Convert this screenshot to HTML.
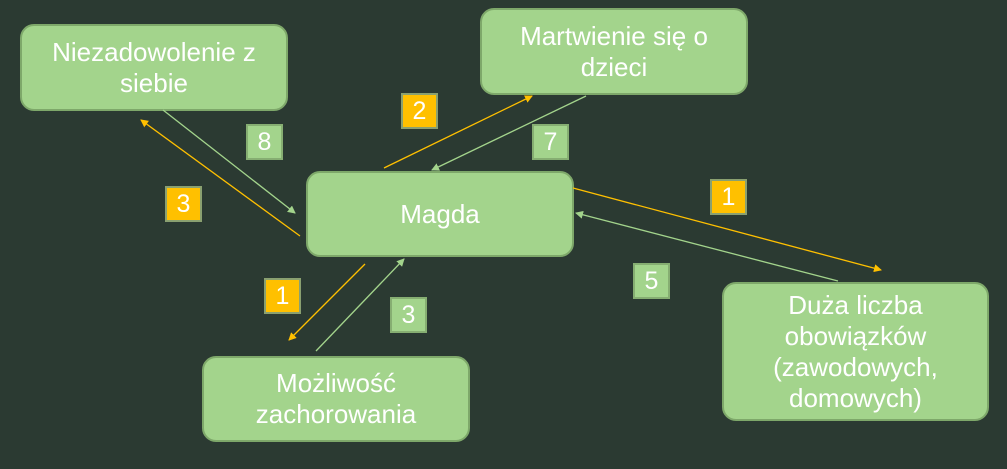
<!DOCTYPE html>
<html><head><meta charset="utf-8"><style>
html,body{margin:0;padding:0;}
body{width:1007px;height:469px;background:#2b3a32;position:relative;overflow:hidden;font-family:"Liberation Sans",sans-serif;}
.box{position:absolute;box-sizing:border-box;background:#a3d48c;border:2px solid #7ea86a;border-radius:14px;color:#fff;font-size:26px;line-height:31px;display:flex;align-items:center;justify-content:center;text-align:center;}
.b{position:absolute;box-sizing:border-box;width:37px;height:36px;border:2px solid #8aa070;color:#fff;font-size:25px;display:flex;align-items:center;justify-content:center;}
.y{background:#ffc000;}
.g{background:#a3d48c;border-color:#86ae72;}
svg{position:absolute;left:0;top:0;}
</style></head><body>
<div class="box" style="left:20px;top:24px;width:268px;height:87px;">Niezadowolenie z<br>siebie</div>
<div class="box" style="left:480px;top:8px;width:268px;height:87px;">Martwienie się o<br>dzieci</div>
<div class="box" style="left:306px;top:171px;width:268px;height:86px;">Magda</div>
<div class="box" style="left:202px;top:356px;width:268px;height:86px;">Możliwość<br>zachorowania</div>
<div class="box" style="left:722px;top:282px;width:267px;height:139px;">Duża liczba<br>obowiązków<br>(zawodowych,<br>domowych)</div>
<svg width="1007" height="469">
<defs>
<marker id="ay" markerWidth="8" markerHeight="8" refX="7" refY="4" orient="auto" markerUnits="userSpaceOnUse"><path d="M0,0L8,4L0,8z" fill="#ffc000"/></marker>
<marker id="ag" markerWidth="8" markerHeight="8" refX="7" refY="4" orient="auto" markerUnits="userSpaceOnUse"><path d="M0,0L8,4L0,8z" fill="#a3d48c"/></marker>
</defs>
<g stroke-width="1.3" fill="none">
<line x1="163" y1="110" x2="295" y2="213" stroke="#a3d48c" marker-end="url(#ag)"/>
<line x1="300" y1="236" x2="141" y2="120" stroke="#ffc000" marker-end="url(#ay)"/>
<line x1="384" y1="168" x2="532" y2="96" stroke="#ffc000" marker-end="url(#ay)"/>
<line x1="586" y1="96" x2="432" y2="170" stroke="#a3d48c" marker-end="url(#ag)"/>
<line x1="573" y1="188" x2="881" y2="270" stroke="#ffc000" marker-end="url(#ay)"/>
<line x1="838" y1="281" x2="576" y2="213" stroke="#a3d48c" marker-end="url(#ag)"/>
<line x1="365" y1="264" x2="289" y2="340" stroke="#ffc000" marker-end="url(#ay)"/>
<line x1="316" y1="351" x2="404" y2="259" stroke="#a3d48c" marker-end="url(#ag)"/>
</g>
</svg>
<div class="b g" style="left:246px;top:124px;">8</div>
<div class="b y" style="left:401px;top:93px;">2</div>
<div class="b g" style="left:532px;top:124px;">7</div>
<div class="b y" style="left:165px;top:186px;">3</div>
<div class="b y" style="left:710px;top:179px;">1</div>
<div class="b g" style="left:633px;top:263px;">5</div>
<div class="b y" style="left:264px;top:278px;">1</div>
<div class="b g" style="left:390px;top:297px;">3</div>
</body></html>
